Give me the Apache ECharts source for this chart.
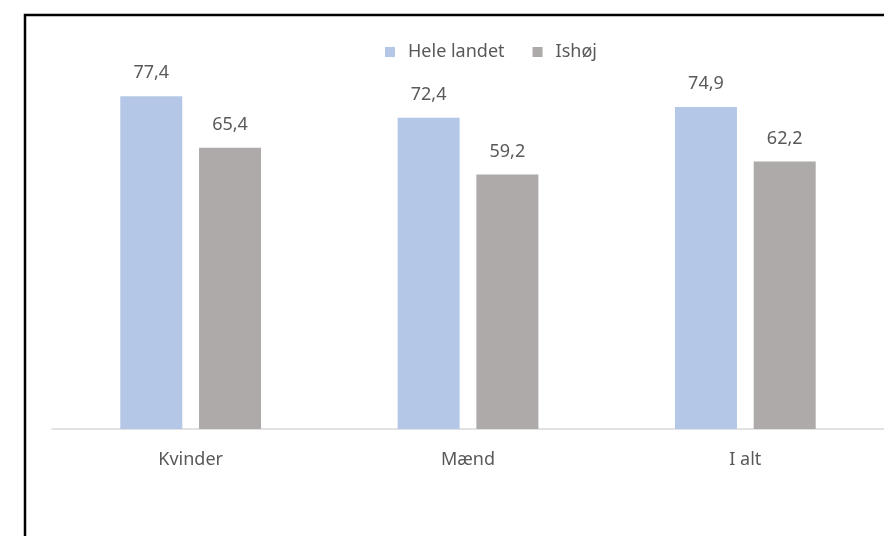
<!DOCTYPE html>
<html>
<head>
<meta charset="utf-8">
<script src="https://cdn.jsdelivr.net/npm/echarts@6/dist/echarts.min.js"></script>
<style>
  html, body { margin: 0; padding: 0; background: #fff; }
  #chart { width: 884px; height: 536px; }
</style>
</head>
<body>
<div id="chart"></div>
<script>
const categories = ["Kvinder", "Mænd", "I alt"];
const seriesNames = ["Hele landet", "Ishøj"];
const heleLandet = [77.4, 72.4, 74.9];
const ishoj = [65.4, 59.2, 62.2];

const colors = ["#b4c7e7", "#aeaaaa"];
const textColor = "#595959";
const font = "'Noto Sans', sans-serif";

function fmt(v) {
  return v.toFixed(1).replace(".", ",");
}

function barSeries(name, data, color) {
  return {
    name,
    type: "bar",
    data,
    barWidth: 62,
    barGap: "27%",
    itemStyle: { color },
    label: {
      show: true,
      position: "top",
      distance: 14,
      color: textColor,
      fontFamily: font,
      fontSize: 18,
      formatter: (p) => fmt(p.value),
    },
  };
}

const chart = echarts.init(document.getElementById("chart"));
chart.setOption({
  animation: false,
  grid: { left: 52, right: 0, top: 85, bottom: 107 },
  legend: {
    data: seriesNames,
    left: 380,
    top: 38,
    itemWidth: 10,
    itemHeight: 10,
    itemGap: 28,
    icon: "rect",
    textStyle: {
      color: textColor,
      fontFamily: font,
      fontSize: 18,
      padding: [0, 0, 0, 8],
    },
  },
  xAxis: {
    type: "category",
    data: categories,
    axisLine: { lineStyle: { color: "#d9d9d9", width: 1.5 } },
    axisTick: { show: false },
    axisLabel: {
      color: textColor,
      fontFamily: font,
      fontSize: 18,
      margin: 22,
    },
  },
  yAxis: {
    type: "value",
    min: 0,
    max: 80,
    show: false,
    splitLine: { show: false },
  },
  graphic: [
    {
      type: "polyline",
      shape: { points: [[25, 540], [25, 15], [890, 15]] },
      style: { stroke: "#000", lineWidth: 2.5, fill: null },
      silent: true,
    },
  ],
  series: [
    barSeries(seriesNames[0], heleLandet, colors[0]),
    barSeries(seriesNames[1], ishoj, colors[1]),
  ],
});
</script>
</body>
</html>
